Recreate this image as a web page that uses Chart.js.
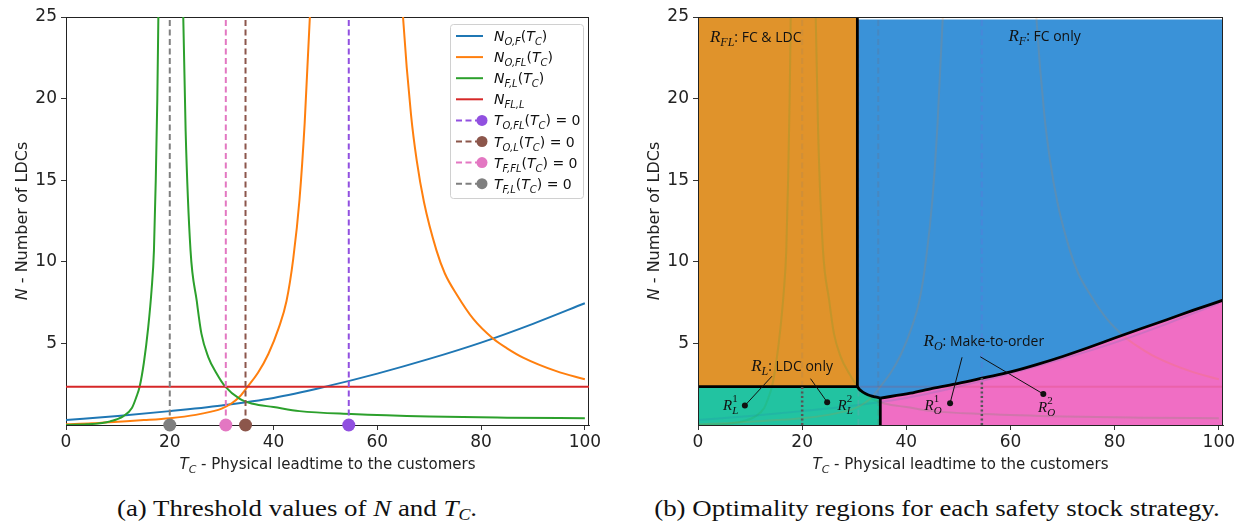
<!DOCTYPE html>
<html><head><meta charset="utf-8">
<script src="https://cdn.jsdelivr.net/npm/chart.js@4.4.0/dist/chart.umd.min.js"></script>
<style>
html,body{margin:0;padding:0;background:#fff;width:1237px;height:525px;overflow:hidden;}
#wa{position:absolute;left:0;top:0;width:618px;height:480px;}
#wb{position:absolute;left:618px;top:0;width:619px;height:480px;}
.cap{position:absolute;top:495px;font-family:"Liberation Serif","Times New Roman",serif;font-size:24px;color:#111;white-space:nowrap;transform:translateX(-50%) scaleX(1.12);}
.cap sub{font-size:16px;vertical-align:-4px;}
</style></head><body>
<div id="wa"><canvas id="ca"></canvas></div>
<div id="wb"><canvas id="cb"></canvas></div>
<div class="cap" style="left:297px">(a) Threshold values of <i>N</i> and <i>T<sub>C</sub></i>.</div>
<div class="cap" style="left:937px">(b) Optimality regions for each safety stock strategy.</div>
<script>
// ---------------- data ----------------
const X_TICKS = [0, 20, 40, 60, 80, 100];
const Y_TICKS = [5, 10, 15, 20, 25];
// N_{O,F}(T_C)
const NOF_T = [0, 10, 20, 30, 40, 50, 60, 70, 80, 90, 100];
const NOF_N = [0.30, 0.55, 0.85, 1.20, 1.66, 2.35, 3.15, 4.05, 5.05, 6.20, 7.46];
// N_{O,FL}(T_C), left and right branches of the pole
const NOFL1_T = [0, 5, 10, 15, 20, 25, 28, 30, 32, 33.5, 35, 37, 39, 41, 42.5, 43.8, 45, 46, 47, 48];
const NOFL1_N = [0.05, 0.10, 0.20, 0.30, 0.42, 0.62, 0.82, 1.0, 1.35, 1.75, 2.35, 3.2, 4.35, 5.95, 7.6, 10.2, 13.8, 18.5, 25, 33];
const NOFL2_T = [64.6, 65, 66.5, 67.6, 69, 71.4, 73, 75.3, 78.5, 82.3, 85, 88.1, 94.5, 100];
const NOFL2_N = [27.2, 24.8, 19.0, 16.2, 13.65, 10.7, 9.3, 8.0, 6.5, 5.3, 4.7, 4.13, 3.3, 2.8];
// N_{F,L}(T_C), left and right branches
const NFL1_T = [0, 4, 7, 8.5, 11, 12.7, 13.6, 14.2, 15, 15.85, 16.5, 16.95, 17.3, 17.6, 17.8, 18.0];
const NFL1_N = [0, 0.04, 0.12, 0.22, 0.53, 1.04, 1.75, 2.36, 3.8, 6.0, 8.3, 10.7, 15, 20, 25, 30];
const NFL2_T = [22.4, 22.6, 23.06, 24.0, 25.2, 26.1, 27.4, 29.0, 30.7, 33.5, 36, 40, 45, 55, 70, 85, 100];
const NFL2_N = [30, 25, 18, 10.7, 7.6, 5.6, 4.18, 3.17, 2.35, 1.6, 1.3, 1.1, 0.85, 0.67, 0.52, 0.45, 0.41];
// N_{FL,L}
const N_FLL = 2.35;
// T values where the thresholds are zero: T_{O,FL}, T_{O,L}, T_{F,FL}, T_{F,L}
const TH_T = [54.5, 34.6, 30.8, 20];
// region boundaries (right panel)
const FL_EDGE_T = 30.6;
const CORNER_T = [30.6, 31.0, 31.5, 32.2, 33.0, 34.0, 35.0];
const CORNER_N = [2.35, 2.18, 2.05, 1.92, 1.81, 1.72, 1.65];
const RO_T = [35, 40.8, 45, 50, 55, 60, 65, 70, 75, 80, 85, 90, 95, 100.8];
const RO_N = [1.65, 1.95, 2.25, 2.55, 2.9, 3.25, 3.7, 4.2, 4.75, 5.33, 5.9, 6.45, 7.02, 7.65];
const DOT_T = [20, 54.5];
const DOT_TOP = [2.35, 2.88];

// ---------------- styles ----------------
const XMAX = 100.8, YMAX = 25;
const COL = {blue:'#1f77b4', orange:'#ff7f0e', green:'#2ca02c', red:'#d62728'};
const TH_COL = ['#9150e0', '#8c564b', '#e377c2', '#7f7f7f'];
const REG = {fl:'#e0932b', f:'#3a92d8', l:'#22c3a1', o:'#f06ec4'};
const DJ = '"DejaVu Sans"', SER = '"Liberation Serif"', OS = '"Open Sans"';

function pts(T, N){ return T.map((t,i)=>({x:t, y:N[i]})); }
function rgba(hex, a){
  const n = parseInt(hex.slice(1),16);
  return `rgba(${(n>>16)&255},${(n>>8)&255},${n&255},${a})`;
}
const S = (t,size,fam,ital,dy=0,adv=true)=>({t, font:`${ital?'italic ':''}${size}px ${fam}`, dy, adv});
function rich(ctx, segs, x, y, align){
  ctx.save();
  ctx.textBaseline='alphabetic'; ctx.textAlign='left';
  let total=0;
  const ws = segs.map(s=>{ctx.font=s.font; const w=ctx.measureText(s.t).width; if(s.adv) total+=w; return w;});
  let cx = align==='center' ? x-total/2 : align==='right' ? x-total : x;
  segs.forEach((s,i)=>{ ctx.font=s.font; ctx.fillText(s.t, cx, y+s.dy); if(s.adv) cx+=ws[i]; });
  ctx.restore();
  return total;
}

function curveSets(alpha, markers){
  const L=(data,col,extra={})=>Object.assign({data, showLine:true, borderColor:rgba(col,alpha), borderWidth:2,
      pointRadius:0, fill:false, cubicInterpolationMode:'monotone'}, extra);
  const st = {cubicInterpolationMode:'default', tension:0};
  const sets = [
    L(pts(NOF_T,NOF_N), COL.blue),
    L(pts(NOFL1_T,NOFL1_N), COL.orange), L(pts(NOFL2_T,NOFL2_N), COL.orange),
    L(pts(NFL1_T,NFL1_N), COL.green), L(pts(NFL2_T,NFL2_N), COL.green),
    L([{x:0,y:N_FLL},{x:XMAX,y:N_FLL}], COL.red, st),
  ];
  TH_T.forEach((t,i)=>sets.push(L([{x:t,y:0},{x:t,y:YMAX}], TH_COL[i], Object.assign({borderDash:[6,3.5]}, st))));
  if(markers) TH_T.forEach((t,i)=>sets.push({data:[{x:t,y:0}], showLine:false, pointRadius:6.5,
      pointBackgroundColor:TH_COL[i], pointBorderColor:TH_COL[i], pointBorderWidth:0, clip:false}));
  return sets;
}

function scales(yw){
  const gridOpt = {display:true, drawOnChartArea:false, drawTicks:true, tickLength:5, color:'#333', tickWidth:1};
  return {
    x:{type:'linear', min:0, max:XMAX,
       afterBuildTicks:s=>{s.ticks = X_TICKS.map(v=>({value:v}));},
       afterFit:s=>{s.height=55; s.paddingLeft=0; s.paddingRight=0;},
       ticks:{font:{family:'DejaVu Sans', size:17}, color:'#222', padding:2, maxRotation:0, autoSkip:false},
       grid:gridOpt, border:{display:true, color:'#333', width:1}},
    y:{type:'linear', min:0, max:YMAX,
       afterBuildTicks:s=>{s.ticks = Y_TICKS.map(v=>({value:v}));},
       afterFit:s=>{s.width=yw; s.paddingTop=0; s.paddingBottom=0;},
       ticks:{font:{family:'DejaVu Sans', size:17}, color:'#222', padding:4, autoSkip:false},
       grid:gridOpt, border:{display:true, color:'#333', width:1}}
  };
}

function titles(chart, ctx){
  const a = chart.chartArea;
  ctx.fillStyle='#222';
  rich(ctx, [S('T',15,DJ,1), S('C',11,DJ,1,4), S(' - Physical leadtime to the customers',15,DJ,0)], (a.left+a.right)/2, 469, 'center');
  ctx.save();
  ctx.translate(a.left-39, (a.top+a.bottom)/2);
  ctx.rotate(-Math.PI/2);
  rich(ctx, [S('N',16,DJ,1), S(' - Number of LDCs',16,DJ,0)], 0, 0, 'center');
  ctx.restore();
}
function frame(chart, ctx){
  const a = chart.chartArea;
  ctx.save(); ctx.strokeStyle='#222'; ctx.lineWidth=1;
  ctx.strokeRect(Math.round(a.left)+0.5, Math.round(a.top)+0.5, Math.round(a.right-a.left)-1, Math.round(a.bottom-a.top));
  ctx.restore();
}

// ---------------- left chart ----------------
const LEG = [
  {c:COL.blue, dash:false, segs:[S('N',14,DJ,1),S('O,F',10,DJ,1,4),S('(',14,DJ,0),S('T',14,DJ,1),S('C',10,DJ,1,4),S(')',14,DJ,0)]},
  {c:COL.orange, dash:false, segs:[S('N',14,DJ,1),S('O,FL',10,DJ,1,4),S('(',14,DJ,0),S('T',14,DJ,1),S('C',10,DJ,1,4),S(')',14,DJ,0)]},
  {c:COL.green, dash:false, segs:[S('N',14,DJ,1),S('F,L',10,DJ,1,4),S('(',14,DJ,0),S('T',14,DJ,1),S('C',10,DJ,1,4),S(')',14,DJ,0)]},
  {c:COL.red, dash:false, segs:[S('N',14,DJ,1),S('FL,L',10,DJ,1,4)]},
  {c:TH_COL[0], dash:true, segs:[S('T',14,DJ,1),S('O,FL',10,DJ,1,4),S('(',14,DJ,0),S('T',14,DJ,1),S('C',10,DJ,1,4),S(') = 0',14,DJ,0)]},
  {c:TH_COL[1], dash:true, segs:[S('T',14,DJ,1),S('O,L',10,DJ,1,4),S('(',14,DJ,0),S('T',14,DJ,1),S('C',10,DJ,1,4),S(') = 0',14,DJ,0)]},
  {c:TH_COL[2], dash:true, segs:[S('T',14,DJ,1),S('F,FL',10,DJ,1,4),S('(',14,DJ,0),S('T',14,DJ,1),S('C',10,DJ,1,4),S(') = 0',14,DJ,0)]},
  {c:TH_COL[3], dash:true, segs:[S('T',14,DJ,1),S('F,L',10,DJ,1,4),S('(',14,DJ,0),S('T',14,DJ,1),S('C',10,DJ,1,4),S(') = 0',14,DJ,0)]},
];
const leftPlugin = {
  id:'leftDeco',
  beforeDatasetsDraw(chart){ frame(chart, chart.ctx); },
  afterDraw(chart){
    const ctx = chart.ctx;
    titles(chart, ctx);
    const a = chart.chartArea;
    const bx = a.right-139, by = a.top+7, bw = 133, bh = 174;
    ctx.save();
    ctx.fillStyle='rgba(255,255,255,0.85)'; ctx.strokeStyle='#d0d0d0'; ctx.lineWidth=1;
    ctx.beginPath(); ctx.roundRect(bx+0.5, by+0.5, bw, bh, 3); ctx.fill(); ctx.stroke();
    LEG.forEach((e,i)=>{
      const yy = by+12+i*21.1;
      ctx.strokeStyle=e.c; ctx.lineWidth=2; ctx.setLineDash(e.dash?[6,3.5]:[]);
      ctx.beginPath(); ctx.moveTo(bx+6, yy); ctx.lineTo(bx+33, yy); ctx.stroke();
      ctx.setLineDash([]);
      if(e.dash){ ctx.fillStyle=e.c; ctx.beginPath(); ctx.arc(bx+32, yy, 5.5, 0, Math.PI*2); ctx.fill(); }
      ctx.fillStyle='#111';
      rich(ctx, e.segs, bx+44, yy+5, 'left');
    });
    ctx.restore();
  }
};
new Chart(document.getElementById('ca'), {
  type:'scatter',
  data:{datasets: curveSets(1, true).reverse()},
  options:{responsive:true, maintainAspectRatio:false, animation:false,
    layout:{padding:{top:17, right:29, bottom:0, left:0}},
    plugins:{legend:{display:false}, tooltip:{enabled:false}},
    scales: scales(66)},
  plugins:[leftPlugin]
});

// ---------------- right chart ----------------
const ANN = {
  fl:{x:2.3, y:23.45}, f:{x:59.6, y:23.5},
  l:{x:10.2, y:3.33}, o:{x:43.3, y:4.85},
  l1:{tx:4.8, ty:0.89, dx:9.0, dy:1.19, ex:14.2, ey:2.99},
  l2:{tx:26.8, ty:0.89, dx:24.8, dy:1.40, ex:21.6, ey:2.84},
  o1:{tx:43.5, ty:0.89, dx:48.4, dy:1.34, ex:50.7, ey:4.15},
  o2:{tx:65.3, ty:0.80, dx:66.3, dy:1.90, ex:54.2, ey:4.18}
};
function Rlab(sub, sup, big=17, small=12){
  const out=[S('R',big,SER,1)];
  if(sup){ out.push(S(sup,small,SER,0,-8,false)); }
  out.push(S(sub,small,SER,1,4));
  return out;
}
const rightPlugin = {
  id:'rightDeco',
  afterDatasetsDraw(chart){
    const ctx = chart.ctx, xs = chart.scales.x, ys = chart.scales.y;
    const px = v=>xs.getPixelForValue(v), py = v=>ys.getPixelForValue(v);
    frame(chart, ctx);
    ctx.save();
    ctx.fillStyle='#111';
    rich(ctx, [...Rlab('FL'), S(': FC & LDC',14,OS,0)], px(ANN.fl.x), py(ANN.fl.y), 'left');
    rich(ctx, [...Rlab('F'), S(': FC only',14,OS,0)], px(ANN.f.x), py(ANN.f.y), 'left');
    rich(ctx, [...Rlab('L'), S(': LDC only',14,OS,0)], px(ANN.l.x), py(ANN.l.y), 'left');
    rich(ctx, [...Rlab('O'), S(': Make-to-order',14,OS,0)], px(ANN.o.x), py(ANN.o.y), 'left');
    const sm = [['l1','L','1'],['l2','L','2'],['o1','O','1'],['o2','O','2']];
    sm.forEach(([k,sub,sup])=>{
      const a = ANN[k];
      ctx.strokeStyle='#111'; ctx.lineWidth=1;
      ctx.beginPath(); ctx.moveTo(px(a.dx),py(a.dy)); ctx.lineTo(px(a.ex),py(a.ey)); ctx.stroke();
      ctx.fillStyle='#111';
      ctx.beginPath(); ctx.arc(px(a.dx),py(a.dy),3,0,Math.PI*2); ctx.fill();
      rich(ctx, Rlab(sub,sup,15,11), px(a.tx), py(a.ty), 'left');
    });
    ctx.restore();
  },
  afterDraw(chart){ titles(chart, chart.ctx); }
};
const fillSet = (data, col, fill, extra={})=>Object.assign({data, showLine:true, borderColor:'rgba(0,0,0,0)', borderWidth:1,
  backgroundColor:col, fill, pointRadius:0, cubicInterpolationMode:'monotone'}, extra);
const blk = (data, extra={})=>Object.assign({data, showLine:true, borderColor:'#000', borderWidth:2.8, pointRadius:0,
  fill:false, cubicInterpolationMode:'monotone'}, extra);
const straight = {cubicInterpolationMode:'default', tension:0};
const boundaryAll = pts(CORNER_T,CORNER_N).concat(pts(RO_T,RO_N).slice(1));
const rightSets = [
  fillSet([{x:0,y:YMAX},{x:FL_EDGE_T,y:YMAX}], REG.fl, {value:N_FLL}, straight),
  fillSet(boundaryAll, REG.f, {value:24.85}),
  fillSet([{x:0,y:N_FLL}].concat(pts(CORNER_T,CORNER_N)), REG.l, 'origin'),
  fillSet(pts(RO_T,RO_N), REG.o, 'origin'),
  ...curveSets(0.16, false),
  blk([{x:0,y:N_FLL},{x:FL_EDGE_T,y:N_FLL}], straight),
  blk([{x:FL_EDGE_T,y:N_FLL},{x:FL_EDGE_T,y:YMAX}], straight),
  blk(pts(CORNER_T,CORNER_N)),
  blk([{x:RO_T[0],y:0},{x:RO_T[0],y:RO_N[0]}], straight),
  blk(pts(RO_T,RO_N)),
  ...DOT_T.map((t,i)=>({data:[{x:t,y:0},{x:t,y:DOT_TOP[i]}], showLine:true, borderColor:'#555', borderWidth:2.5,
      borderDash:[2,2.5], pointRadius:0, fill:false, tension:0}))
];
new Chart(document.getElementById('cb'), {
  type:'scatter',
  data:{datasets: rightSets.reverse()},
  options:{responsive:true, maintainAspectRatio:false, animation:false,
    layout:{padding:{top:17, right:14, bottom:0, left:0}},
    plugins:{legend:{display:false}, tooltip:{enabled:false}},
    scales: scales(80)},
  plugins:[rightPlugin]
});
</script>
</body></html>
